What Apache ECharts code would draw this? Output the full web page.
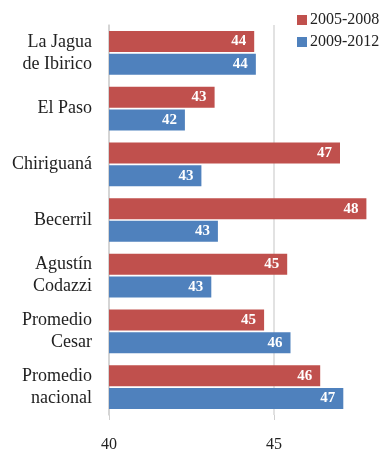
<!DOCTYPE html>
<html>
<head>
<meta charset="utf-8">
<script src="https://cdn.jsdelivr.net/npm/echarts@6/dist/echarts.min.js"></script>
<style>
  html, body { margin: 0; padding: 0; background: #fff; }
  #chart { width: 391px; height: 455px; }
</style>
</head>
<body>
<div id="chart"></div>
<script>
var categories = ['La Jagua\nde Ibirico', 'El Paso', 'Chiriguaná', 'Becerril', 'Agustín\nCodazzi', 'Promedio\nCesar', 'Promedio\nnacional'];
var serie2005 = [44.4, 43.2, 47.0, 47.8, 45.4, 44.7, 46.4];
var serie2009 = [44.45, 42.3, 42.8, 43.3, 43.1, 45.5, 47.1];
var xTicks = [40, 45];

var serif = '"Liberation Serif", "DejaVu Serif", serif';

var myChart = echarts.init(document.getElementById('chart'));
myChart.setOption({
  backgroundColor: '#fff',
  animation: false,
  legend: {
    orient: 'vertical',
    left: 292,
    top: 7,
    itemWidth: 10,
    itemHeight: 10,
    itemGap: 6,
    icon: 'rect',
    textStyle: { fontFamily: serif, fontSize: 16, color: '#222', padding: [0, 0, 0, -2] },
    data: ['2005-2008', '2009-2012']
  },
  grid: { left: 109, right: 18, top: 25, bottom: 40 },
  xAxis: {
    type: 'value',
    min: 40,
    max: 48,
    interval: 5,
    axisLine: { show: false },
    axisTick: { show: true, length: 5, lineStyle: { color: '#d0d0d0' } },
    axisLabel: { fontFamily: serif, fontSize: 16, color: '#222', margin: 22, showMaxLabel: false,
      formatter: function (v) { return xTicks.indexOf(v) >= 0 ? v : ''; } },
    splitLine: { show: true, showMaxLine: false, lineStyle: { color: '#d9d9d9', width: 1.5 } }
  },
  yAxis: {
    type: 'category',
    inverse: true,
    data: categories,
    axisLine: { show: true, lineStyle: { color: '#d0d0d0', width: 1.5 } },
    axisTick: { show: false },
    axisLabel: { fontFamily: serif, fontSize: 18, color: '#222', lineHeight: 22, margin: 17 }
  },
  series: [
    {
      name: '2005-2008',
      type: 'bar',
      data: serie2005,
      barWidth: 21,
      barGap: '8%',
      itemStyle: { color: '#C0504D' },
      label: { show: true, position: 'insideRight', distance: 8, color: '#fff', fontWeight: 'bold',
        fontFamily: serif, fontSize: 15, formatter: function (p) { return Math.round(p.value); } }
    },
    {
      name: '2009-2012',
      type: 'bar',
      data: serie2009,
      barWidth: 21,
      barGap: '8%',
      itemStyle: { color: '#4F81BD' },
      label: { show: true, position: 'insideRight', distance: 8, color: '#fff', fontWeight: 'bold',
        fontFamily: serif, fontSize: 15, formatter: function (p) { return Math.round(p.value); } }
    }
  ]
});
</script>
</body>
</html>
